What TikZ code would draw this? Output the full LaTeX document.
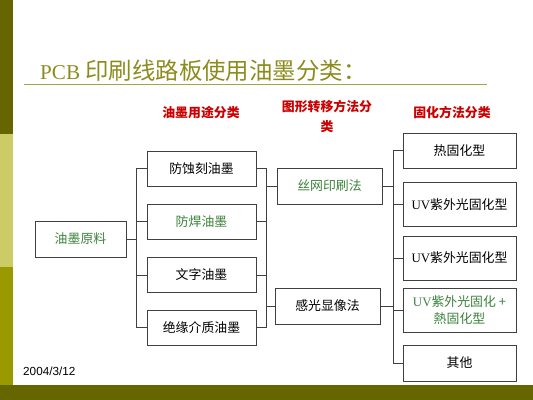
\documentclass[tikz,border=0pt]{standalone}
\usepackage{fontspec}
\setmainfont{Noto Sans CJK SC}
\newfontfamily\latfont{Liberation Serif}
\newfontfamily\datefont{Liberation Sans}
\definecolor{barolive}{RGB}{102,102,0}
\definecolor{barkhaki}{RGB}{204,204,102}
\definecolor{baryellow}{RGB}{153,153,0}
\definecolor{titleolive}{RGB}{140,140,30}
\definecolor{inkgreen}{RGB}{60,130,60}
\definecolor{headred}{RGB}{204,0,0}
\definecolor{boxline}{RGB}{64,64,64}
\begin{document}
\begin{tikzpicture}[x=0.03cm,y=-0.03cm]
\newcommand{\pxl}{0.03cm}
\tikzstyle{box}=[draw=boxline,line width=0.8pt,fill=white,font=\fontsize{11}{14}\selectfont,inner sep=1pt,align=center]
\tikzstyle{usebox}=[box,minimum width=109*\pxl,minimum height=35*\pxl]
\tikzstyle{methbox}=[box,minimum width=105*\pxl,minimum height=36*\pxl]
\tikzstyle{curebox}=[box,minimum width=113*\pxl,minimum height=44*\pxl]
\tikzstyle{head}=[text=headred,font=\fontsize{11}{17}\selectfont\bfseries,inner sep=0pt]
\tikzstyle{link}=[draw=boxline,line width=0.6pt]
\useasboundingbox (0,0) rectangle (533,400);
\fill[barolive] (0,0) rectangle (13,134);
\fill[barkhaki] (0,134) rectangle (13,267);
\fill[baryellow] (0,267) rectangle (13,385);
\fill[barolive] (0,385) rectangle (533,400);
\node[anchor=base west,text=titleolive,font=\fontsize{20}{24}\selectfont,inner sep=0pt] (title) at (40,80) {{\latfont\fontsize{18}{20}\selectfont PCB} 印刷线路板使用油墨分类：};
\draw[titleolive!80,line width=0.7pt] (24,84) -- (487,84);
\node[head] (hUse) at (201,113) {油墨用途分类};
\node[head,align=center] (hMove) at (327,116.5) {图形转移方法分\\类};
\node[head] (hCure) at (452,113) {固化方法分类};
\node[box,minimum width=91*\pxl,minimum height=36*\pxl,text=inkgreen] (raw) at (80.5,239) {油墨原料};
\node[usebox] (etch) at (201.5,168.5) {防蚀刻油墨};
\node[usebox,text=inkgreen] (solder) at (201.5,221.5) {防焊油墨};
\node[usebox] (legend) at (201.5,275) {文字油墨};
\node[usebox] (insul) at (201.5,327.5) {绝缘介质油墨};
\node[methbox,text=inkgreen] (screen) at (329.5,186) {丝网印刷法};
\node[methbox] (photo) at (327.5,306) {感光显像法};
\node[curebox,minimum height=35*\pxl] (heat) at (459.5,150.5) {热固化型};
\node[curebox] (uvA) at (459.5,204.5) {{\latfont UV}紫外光固化型};
\node[curebox] (uvB) at (459.5,258) {{\latfont UV}紫外光固化型};
\node[curebox,text=inkgreen] (uvheat) at (459.5,310) {{\latfont UV}紫外光固化 +\\熱固化型};
\node[curebox,minimum height=36*\pxl] (other) at (459.5,363) {其他};
\node[font=\datefont\fontsize{10}{12}\selectfont,anchor=west,inner sep=0pt] (date) at (23,371) {2004/3/12};
\coordinate (busA) at (136,239);
\coordinate (busB) at (266,246);
\coordinate (busC) at (393,246);
\draw[link] (raw) -- (busA);
\draw[link] (busA |- etch) -- (busA |- insul);
\foreach \n in {etch,solder,legend,insul} {
  \draw[link] (busA |- \n) -- (\n);
  \draw[link] (\n) -- (busB |- \n);
}
\draw[link] (busB |- etch) -- (busB |- insul);
\draw[link] (busB |- screen) -- (screen);
\draw[link] (busB |- photo) -- (photo);
\draw[link] (screen) -- (busC |- screen);
\draw[link] (photo) -- (busC |- photo);
\draw[link] (busC |- heat) -- (busC |- other);
\foreach \n in {heat,uvA,uvB,uvheat,other}
  \draw[link] (busC |- \n) -- (\n);
\end{tikzpicture}
\end{document}
